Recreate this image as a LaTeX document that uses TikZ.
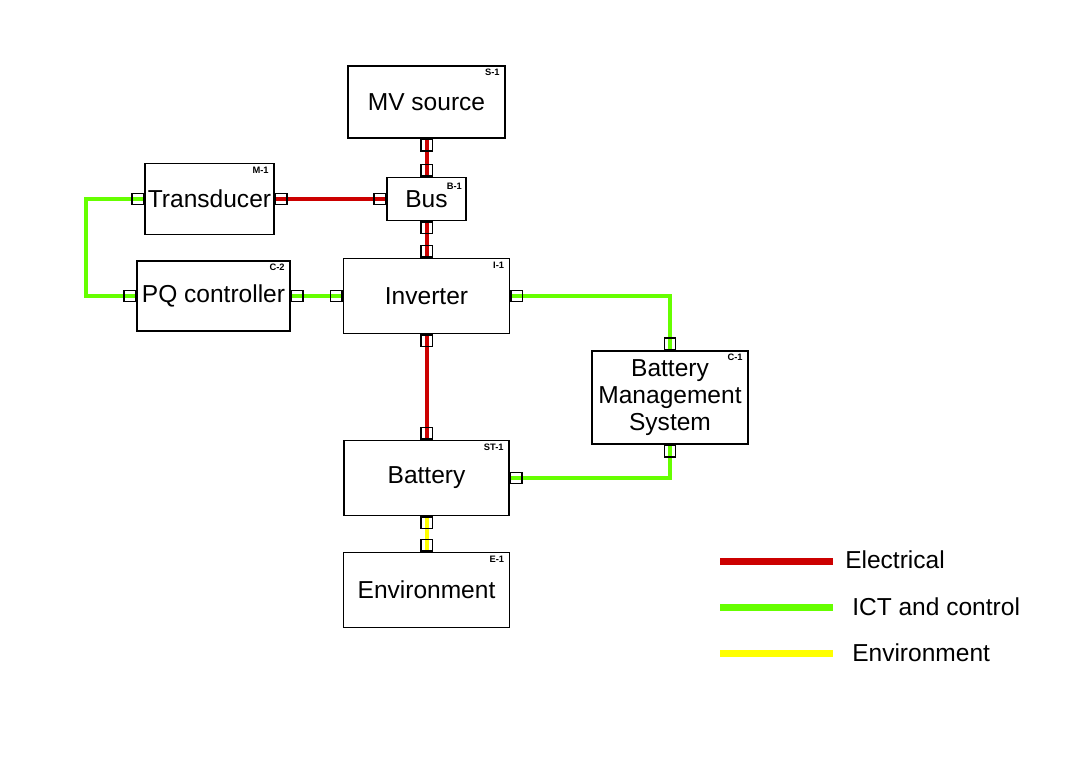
\documentclass[tikz,border=0pt]{standalone}
\usepackage{fontspec}
\setmainfont{Liberation Sans}
\usetikzlibrary{positioning,calc,backgrounds}
\definecolor{elecred}{HTML}{CC0000}
\definecolor{ictgreen}{HTML}{66FF00}
\definecolor{envyellow}{HTML}{FFFF00}

\tikzset{
  block/.style={draw=black, line width=1.3pt, fill=white, inner sep=0pt,
                align=center, font=\fontsize{18.4}{20.25}\selectfont},
  port/.style={draw=black, line width=1pt, minimum size=8.5pt, inner sep=0pt},
  tag/.style={font=\fontsize{7}{8}\selectfont\bfseries, inner sep=0pt},
  legendtext/.style={anchor=west, inner sep=0pt, font=\fontsize{18.4}{20.25}\selectfont},
  elec/.style={elecred, line width=3pt},
  ict/.style={ictgreen, line width=3pt},
  env/.style={envyellow, line width=3pt}
}

\begin{document}
\begin{tikzpicture}[x=0.75pt, y=-0.75pt]
    \useasboundingbox (0,0) rectangle (1067,757);

    % Add the blocks
    \node[block, minimum width=117.75pt, minimum height=54pt] (src) at (426.5,102) {MV source};
    \node[block, minimum width=59.25pt, minimum height=32.25pt] (bus) at (426.5,199) {Bus};
    \node[block, minimum width=96.75pt, minimum height=53.25pt] (trans) at (209.5,199) {Transducer};
    \node[block, minimum width=114.75pt, minimum height=52.5pt] (pqc) at (213.5,296) {PQ controller};
    \node[block, minimum width=124.5pt, minimum height=56.25pt] (inv) at (426.5,296) {Inverter};
    \node[block, minimum width=117pt, minimum height=69.75pt] (bms) at (670,397.5) {Battery\\Management\\System};
    \node[block, minimum width=123.75pt, minimum height=56.25pt] (bat) at (426.5,478) {Battery};
    \node[block, minimum width=124.5pt, minimum height=56.25pt] (envi) at (426.5,590) {Environment};

    % Tags in the corners
    \node[tag, below left=3pt and 4.5pt of src.north east] (srctag) {S-1};
    \node[tag, below left=5pt and 3.5pt of bus.north east] (bustag) {B-1};
    \node[tag, below left=3pt and 4.5pt of trans.north east] (transtag) {M-1};
    \node[tag, below left=3pt and 4.5pt of pqc.north east] (pqctag) {C-2};
    \node[tag, below left=3pt and 4.5pt of inv.north east] (invtag) {I-1};
    \node[tag, below left=3pt and 4.5pt of bms.north east] (bmstag) {C-1};
    \node[tag, below left=3pt and 4.5pt of bat.north east] (battag) {ST-1};
    \node[tag, below left=3pt and 4.5pt of envi.north east] (envitag) {E-1};

    % Ports
    \node[port, below=0pt of src.south] (srcb) {};
    \node[port, above=0pt of bus.north] (bust) {};
    \node[port, left=0pt of bus.west] (busl) {};
    \node[port, below=0pt of bus.south] (busb) {};
    \node[port, left=0pt of trans.west] (transl) {};
    \node[port, right=0pt of trans.east] (transr) {};
    \node[port, left=0pt of pqc.west] (pqcl) {};
    \node[port, right=0pt of pqc.east] (pqcr) {};
    \node[port, above=0pt of inv.north] (invt) {};
    \node[port, left=0pt of inv.west] (invl) {};
    \node[port, right=0pt of inv.east] (invr) {};
    \node[port, below=0pt of inv.south] (invb) {};
    \node[port, above=0pt of bms.north] (bmst) {};
    \node[port, below=0pt of bms.south] (bmsb) {};
    \node[port, above=0pt of bat.north] (batt) {};
    \node[port, right=0pt of bat.east] (batr) {};
    \node[port, below=0pt of bat.south] (batb) {};
    \node[port, above=0pt of envi.north] (envit) {};

    % Connect the ports
    \begin{scope}[on background layer]
        \draw[elec] (srcb.north) -- (bust.south);
        \draw[elec] (transr.west) -- (busl.east);
        \draw[elec] (busb.north) -- (invt.south);
        \draw[elec] (invb.north) -- (batt.south);
        \draw[ict] (transl.east) -- ++(-58,0) |- (pqcl.east);
        \draw[ict] (pqcr.west) -- (invl.east);
        \draw[ict] (invr.west) -| (bmst.south);
        \draw[ict] (batr.west) -| (bmsb.north);
        \draw[env] (batb.north) -- (envit.south);
    \end{scope}

    % Legend
    \draw[elecred, line width=5.25pt] (720,561) -- (833,561);
    \draw[ictgreen, line width=5.25pt] (720,607) -- (833,607);
    \draw[envyellow, line width=5.25pt] (720,653) -- (833,653);
    \node[legendtext] (legelec) at (845,560) {Electrical};
    \node[legendtext] (legict) at (852,607) {ICT and control};
    \node[legendtext] (legenv) at (852,653) {Environment};
\end{tikzpicture}
\end{document}
